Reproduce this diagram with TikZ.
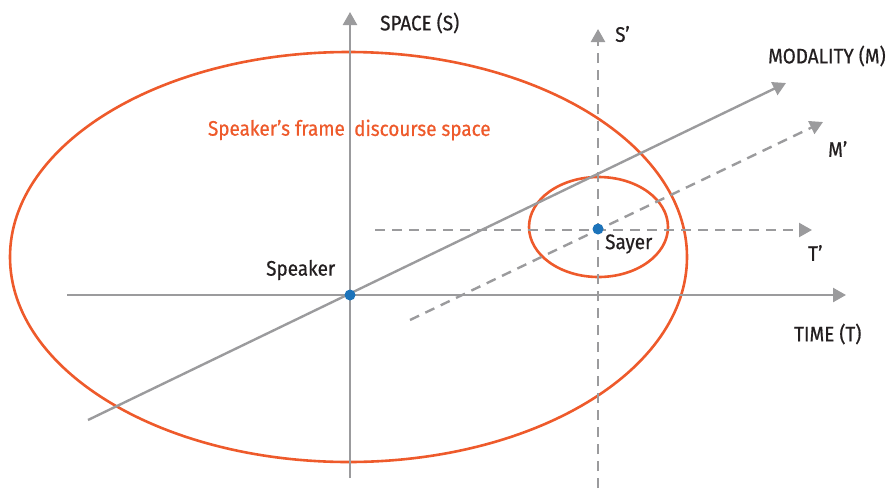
\documentclass[tikz,border=0pt]{standalone}
\usepackage{fontspec}
\setmainfont[FakeStretch=0.9,FakeBold=0.6]{Fira Sans}
\usetikzlibrary{arrows.meta}
\definecolor{axisgray}{HTML}{9B9B9D}
\definecolor{framered}{HTML}{EE5A2B}
\definecolor{dotblue}{HTML}{1C73BA}
\definecolor{textdark}{HTML}{231F20}
\begin{document}
\begin{tikzpicture}[x=1pt,y=-1pt,
  axis/.style={draw=axisgray,line width=2.4pt,-{Triangle[width=14pt,length=13pt]}},
  daxis/.style={axis,dash pattern=on 10pt off 7pt},
  frame/.style={draw=framered,line width=2.6pt},
  dot/.style={circle,fill=dotblue,inner sep=0pt,minimum size=11pt},
  lbl/.style={text=textdark,font=\fontsize{21}{25}\selectfont,inner sep=0pt},
  rlbl/.style={text=framered,font=\fontsize{21}{25}\selectfont,inner sep=0pt}]
\useasboundingbox (0,0) rectangle (888,488);
% frames
\draw[frame] (348.5,257) ellipse [x radius=338.5, y radius=205];
\draw[frame] (598.5,227) ellipse [x radius=69.5, y radius=50];
% coordinates
\coordinate (sB) at (350,478); \coordinate (sT) at (350,12);
\coordinate (tL) at (67,295); \coordinate (tR) at (846,295);
\coordinate (mL) at (88,420); \coordinate (mR) at (786,83);
\coordinate (spB) at (598,488); \coordinate (spT) at (598,29);
\coordinate (tpL) at (375,230); \coordinate (tpR) at (812,230);
\coordinate (mpL) at (410,320); \coordinate (mpR) at (823,122);
% axes
\draw[axis] (sB) -- (sT);
\draw[axis] (tL) -- (tR);
\draw[axis] (mL) -- (mR);
\draw[daxis] (spB) -- (spT);
\draw[daxis] (tpL) -- (tpR);
\draw[daxis] (mpL) -- (mpR);
% dots
\node[dot] (speaker) at (350,295) {};
\node[dot] (sayer) at (598,229) {};
% labels
\node[lbl,anchor=west] (lS) at (380,23) {SPACE (S)};
\node[lbl,anchor=west] (lSp) at (615,34) {S’};
\node[lbl,anchor=west] (lM) at (768,56) {MODALITY (M)};
\node[lbl,anchor=west] (lMp) at (828,149) {M’};
\node[lbl,anchor=west] (lTp) at (808,253) {T’};
\node[lbl,anchor=west] (lT) at (794,334) {TIME (T)};
\node[lbl,anchor=west] (lSpk) at (266,270) {Speaker};
\node[lbl,anchor=west] (lSay) at (605,244) {Sayer};
\node[rlbl,anchor=east] (lF1) at (345,130) {Speaker’s frame};
\node[rlbl,anchor=west] (lF2) at (354,130) {discourse space};
\end{tikzpicture}
\end{document}
